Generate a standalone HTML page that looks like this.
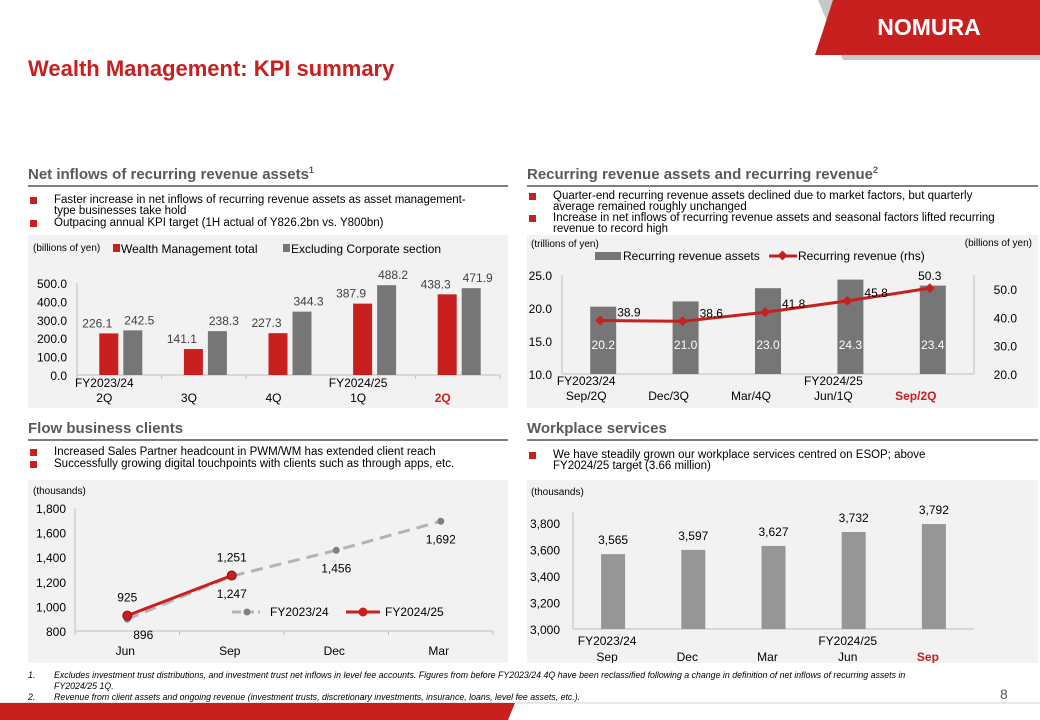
<!DOCTYPE html>
<html><head><meta charset="utf-8"><style>
body{margin:0;width:1040px;height:720px;position:relative;background:#fff;font-family:"Liberation Sans",Arial,sans-serif;overflow:hidden}
.abs{position:absolute}
.sec{font-size:15px;font-weight:bold;color:#595959;border-bottom:2px solid #7f7f7f;padding-bottom:2px}
.bul{font-size:11.5px;color:#000;line-height:11px;z-index:2}
.bul div{position:relative;padding-left:26px;margin-bottom:1px}
.bul div:before{content:"";position:absolute;left:2px;top:2px;width:7px;height:7px;background:#c8201f}
.panel{background:#f2f2f2}
svg text{font-family:"Liberation Sans",Arial,sans-serif}
.fn{font-size:8.8px;font-style:italic;color:#000}
</style></head><body>
<svg class="abs" style="left:0;top:0" width="1040" height="720">
<polygon points="818,0 1040,0 1040,60 843,60" fill="#c8c8c8"/>
<polygon points="833,0 1040,0 1040,55 815,55" fill="#c8201f"/>
<text x="929" y="35" text-anchor="middle" font-size="23" font-weight="bold" fill="#fff">NOMURA</text>
<line x1="0" y1="703" x2="1040" y2="703" stroke="#d0d0d0" stroke-width="1"/>
<polygon points="0,703 515,703 508,720 0,720" fill="#c8201f"/>
</svg>
<div class="abs" style="left:28px;top:56px;font-size:22px;font-weight:bold;color:#c8201f">Wealth Management: KPI summary</div>

<div class="abs sec" style="left:28px;top:165px;width:480px">Net inflows of recurring revenue assets<sup style="font-size:9px">1</sup></div>
<div class="abs bul" style="left:28px;top:195px;width:455px"><div>Faster increase in net inflows of recurring revenue assets as asset management-type businesses take hold</div><div>Outpacing annual KPI target (1H actual of Y826.2bn vs. Y800bn)</div></div>

<div class="abs sec" style="left:527px;top:165px;width:511px">Recurring revenue assets and recurring revenue<sup style="font-size:9px">2</sup></div>

<div class="abs sec" style="left:28px;top:420px;width:480px">Flow business clients</div>
<div class="abs bul" style="left:28px;top:447px;width:480px"><div>Increased Sales Partner headcount in PWM/WM has extended client reach</div><div>Successfully growing digital touchpoints with clients such as through apps, etc.</div></div>

<div class="abs sec" style="left:527px;top:420px;width:511px">Workplace services</div>
<div class="abs bul" style="left:527px;top:450px;width:440px"><div>We have steadily grown our workplace services centred on ESOP; above FY2024/25 target (3.66 million)</div></div>

<svg id="c1" class="abs panel" style="left:28px;top:235px" width="480" height="173"></svg>
<svg id="c2" class="abs panel" style="left:527px;top:235px" width="511" height="173"></svg>
<svg id="c3" class="abs panel" style="left:28px;top:480px" width="480" height="183"></svg>
<svg id="c4" class="abs panel" style="left:527px;top:480px" width="511" height="183"></svg>

<div class="abs bul" style="left:527px;top:191px;width:470px;line-height:10.5px"><div>Quarter-end recurring revenue assets declined due to market factors, but quarterly average remained roughly unchanged</div><div>Increase in net inflows of recurring revenue assets and seasonal factors lifted recurring revenue to record high</div></div>

<div class="abs fn" style="left:28px;top:670px;width:900px"><span style="position:absolute;left:0">1.</span><div style="margin-left:26px;line-height:11px;width:870px">Excludes investment trust distributions, and investment trust net inflows in level fee accounts. Figures from before FY2023/24 4Q have been reclassified following a change in definition of net inflows of recurring assets in FY2024/25 1Q.</div></div>
<div class="abs fn" style="left:28px;top:692px;width:900px"><span style="position:absolute;left:0">2.</span><div style="margin-left:26px">Revenue from client assets and ongoing revenue (investment trusts, discretionary investments, insurance, loans, level fee assets, etc.).</div></div>
<div class="abs" style="left:1000px;top:686px;font-size:14px;color:#595959">8</div>

<script>
const NS="http://www.w3.org/2000/svg";
function mk(svg,tag,at,txt){const e=document.createElementNS(NS,tag);for(const k in at)e.setAttribute(k,at[k]);if(txt!==undefined)e.textContent=txt;svg.appendChild(e);return e;}

// Chart 1 data
const c1Cats=[["FY2023/24","2Q"],["","3Q"],["","4Q"],["FY2024/25","1Q"],["","2Q"]];
const c1Wm=[226.1,141.1,227.3,387.9,438.3];
const c1Ex=[242.5,238.3,344.3,488.2,471.9];
const c1Ticks=[0,100,200,300,400,500];
// Chart 2 data
const c2Cats=[["FY2023/24","Sep/2Q"],["","Dec/3Q"],["","Mar/4Q"],["FY2024/25","Jun/1Q"],["","Sep/2Q"]];
const c2Assets=[20.2,21.0,23.0,24.3,23.4];
const c2Rev=[38.9,38.6,41.8,45.8,50.3];
const c2LTicks=[10,15,20,25];
const c2RTicks=[20,30,40,50];
// Chart 3 data
const c3Cats=["Jun","Sep","Dec","Mar"];
const c3Prev=[896,1247,1456,1692];
const c3Curr=[925,1251];
const c3Ticks=[800,1000,1200,1400,1600,1800];
// Chart 4 data
const c4Cats=[["FY2023/24","Sep"],["","Dec"],["","Mar"],["FY2024/25","Jun"],["","Sep"]];
const c4Vals=[3565,3597,3627,3732,3792];
const c4Ticks=[3000,3200,3400,3600,3800];

const RED="#c8201f",GRAY="#767676";
function fmt1(v){return v.toFixed(1);}
function fmtK(v){return v.toLocaleString("en-US");}

// ---- Chart 1
(function(){
const s=document.getElementById("c1");
const x0=49,x1=472,y=v=>140-v*0.184,bw=(x1-x0)/c1Cats.length;
mk(s,"text",{x:5,y:16,"font-size":10},"(billions of yen)");
let r=mk(s,"rect",{x:85,y:9,width:7,height:8,fill:RED});
mk(s,"text",{x:93,y:18,"font-size":12},"Wealth Management total");
r=mk(s,"rect",{x:255,y:9,width:7,height:8,fill:GRAY});
mk(s,"text",{x:263,y:18,"font-size":12},"Excluding Corporate section");
mk(s,"line",{x1:x0,y1:y(0),x2:x1,y2:y(0),stroke:"#bfbfbf"});
mk(s,"line",{x1:x0,y1:y(0),x2:x0,y2:y(500),stroke:"#bfbfbf"});
c1Ticks.forEach(t=>{const e=mk(s,"text",{x:39,y:y(t)+5,"text-anchor":"end","font-size":12},fmt1(t));});
for(let i=0;i<=c1Cats.length;i++)mk(s,"line",{x1:x0+i*bw,y1:y(0),x2:x0+i*bw,y2:y(0)+4,stroke:"#bfbfbf"});
c1Cats.forEach((c,i)=>{
const cx=x0+bw*(i+0.5);
let b=mk(s,"rect",{x:cx-20,y:y(c1Wm[i]),width:19,height:c1Wm[i]*0.184,fill:RED});

b=mk(s,"rect",{x:cx+4,y:y(c1Ex[i]),width:19,height:c1Ex[i]*0.184,fill:GRAY});

mk(s,"text",{x:cx-22,y:y(c1Wm[i])-6,"text-anchor":"middle","font-size":12,fill:"#404040"},fmt1(c1Wm[i]));
mk(s,"text",{x:cx+20,y:y(c1Ex[i])-6,"text-anchor":"middle","font-size":12,fill:"#404040"},fmt1(c1Ex[i]));
const last=i===c1Cats.length-1;
if(c[0])mk(s,"text",{x:cx-15,y:152,"text-anchor":"middle","font-size":12},c[0]);
const t=mk(s,"text",{x:cx-15,y:167,"text-anchor":"middle","font-size":12,"font-weight":last?"bold":"normal",fill:last?RED:"#000"},c[1]);

});
})();

// ---- Chart 2
(function(){
const s=document.getElementById("c2");
const x0=35,x1=447,yl=v=>139-(v-10)*6.6,yr=v=>139-(v-20)*2.833,bw=(x1-x0)/c2Cats.length;
mk(s,"text",{x:4,y:12,"font-size":10},"(trillions of yen)");
mk(s,"text",{x:505,y:11,"font-size":10,"text-anchor":"end"},"(billions of yen)");
mk(s,"rect",{x:68,y:17,width:26,height:8,fill:GRAY});
mk(s,"text",{x:96,y:25,"font-size":12},"Recurring revenue assets");
mk(s,"line",{x1:242,y1:21,x2:270,y2:21,stroke:RED,"stroke-width":3});
mk(s,"rect",{x:252,y:17,width:7,height:7,fill:RED,transform:"rotate(45 255.5 20.5)"});
mk(s,"text",{x:271,y:25,"font-size":12},"Recurring revenue (rhs)");
mk(s,"line",{x1:x0,y1:yl(10),x2:x1,y2:yl(10),stroke:"#bfbfbf"});
mk(s,"line",{x1:x0,y1:yl(10),x2:x0,y2:yl(25),stroke:"#bfbfbf"});
mk(s,"line",{x1:x1,y1:yl(10),x2:x1,y2:yl(25),stroke:"#bfbfbf"});
c2LTicks.forEach(t=>{const e=mk(s,"text",{x:25,y:yl(t)+5,"text-anchor":"end","font-size":12},fmt1(t));});
c2RTicks.forEach(t=>{const e=mk(s,"text",{x:490,y:yr(t)+5,"text-anchor":"end","font-size":12},fmt1(t));});
const pts=[];
c2Cats.forEach((c,i)=>{
const cx=x0+bw*(i+0.5);
const b=mk(s,"rect",{x:cx-13,y:yl(c2Assets[i]),width:26,height:yl(10)-yl(c2Assets[i]),fill:GRAY});

mk(s,"text",{x:cx,y:yl(10)-25,"text-anchor":"middle","font-size":12,fill:"#fff"},fmt1(c2Assets[i]));
pts.push([cx-3,yr(c2Rev[i])]);
const last=i===c2Cats.length-1;
if(c[0])mk(s,"text",{x:cx-17,y:150,"text-anchor":"middle","font-size":12},c[0]);
const t=mk(s,"text",{x:cx-17,y:165,"text-anchor":"middle","font-size":12,"font-weight":last?"bold":"normal",fill:last?RED:"#000"},c[1]);

});
const p=mk(s,"path",{d:"M"+pts.map(q=>q.join(",")).join("L"),fill:"none",stroke:RED,"stroke-width":3});

pts.forEach((q,i)=>{
const d=mk(s,"rect",{x:q[0]-3.5,y:q[1]-3.5,width:7,height:7,fill:RED,transform:`rotate(45 ${q[0]} ${q[1]})`});

const last=i===pts.length-1;
mk(s,"text",{x:last?q[0]:q[0]+17,y:last?q[1]-8:q[1]-4,"text-anchor":last?"middle":"start","font-size":12},fmt1(c2Rev[i]));
});
})();

// ---- Chart 3
(function(){
const s=document.getElementById("c3");
const x0=47,x1=465,y=v=>151-(v-800)*0.123,bw=(x1-x0)/c3Cats.length;
mk(s,"text",{x:5,y:14,"font-size":10},"(thousands)");
mk(s,"line",{x1:x0,y1:y(800),x2:x1,y2:y(800),stroke:"#bfbfbf"});
mk(s,"line",{x1:x0,y1:y(800),x2:x0,y2:y(1800),stroke:"#bfbfbf"});
c3Ticks.forEach(t=>{const e=mk(s,"text",{x:38,y:y(t)+5,"text-anchor":"end","font-size":12},fmtK(t));});
for(let i=0;i<=c3Cats.length;i++)mk(s,"line",{x1:x0+i*bw,y1:y(800),x2:x0+i*bw,y2:y(800)+4,stroke:"#bfbfbf"});
const cx=i=>x0+bw*(i+0.5);
c3Cats.forEach((c,i)=>{const t=mk(s,"text",{x:cx(i)-2,y:175,"text-anchor":"middle","font-size":12},c);});
let p=mk(s,"path",{d:"M"+c3Prev.map((v,i)=>cx(i)+","+y(v)).join("L"),fill:"none",stroke:"#b3b3b3","stroke-width":3,"stroke-dasharray":"12,7"});

c3Prev.forEach((v,i)=>{const c=mk(s,"circle",{cx:cx(i),cy:y(v),r:3.5,fill:"#808080"});
mk(s,"text",{x:cx(i)+(i===0?16:0),y:y(v)+(i===0?20:22),"text-anchor":"middle","font-size":12},fmtK(v));});
p=mk(s,"path",{d:"M"+c3Curr.map((v,i)=>cx(i)+","+y(v)).join("L"),fill:"none",stroke:RED,"stroke-width":3});

c3Curr.forEach((v,i)=>{const c=mk(s,"circle",{cx:cx(i),cy:y(v),r:4.5,fill:RED,stroke:"#8a1010","stroke-width":1});
mk(s,"text",{x:cx(i),y:y(v)-14,"text-anchor":"middle","font-size":12},fmtK(v));});
mk(s,"line",{x1:204,y1:132,x2:232,y2:132,stroke:"#b3b3b3","stroke-width":3,"stroke-dasharray":"9,4"});
mk(s,"circle",{cx:219,cy:132,r:3.5,fill:"#808080"});
mk(s,"text",{x:242,y:136,"font-size":12},"FY2023/24");
mk(s,"line",{x1:318,y1:132,x2:352,y2:132,stroke:RED,"stroke-width":3});
mk(s,"circle",{cx:335,cy:132,r:4.5,fill:RED});
mk(s,"text",{x:357,y:136,"font-size":12},"FY2024/25");
})();

// ---- Chart 4
(function(){
const s=document.getElementById("c4");
const x0=46,x1=447,y=v=>149-(v-3000)*0.1325,bw=(x1-x0)/c4Cats.length;
mk(s,"text",{x:4,y:15,"font-size":10},"(thousands)");
mk(s,"line",{x1:x0,y1:y(3000),x2:x1,y2:y(3000),stroke:"#bfbfbf"});
mk(s,"line",{x1:x0,y1:y(3000),x2:x0,y2:y(3880),stroke:"#bfbfbf"});
c4Ticks.forEach(t=>{const e=mk(s,"text",{x:33,y:y(t)+5,"text-anchor":"end","font-size":12},fmtK(t));});
c4Cats.forEach((c,i)=>{
const cx=x0+bw*(i+0.5);
const b=mk(s,"rect",{x:cx-12,y:y(c4Vals[i]),width:24,height:y(3000)-y(c4Vals[i]),fill:"#969696"});

mk(s,"text",{x:cx,y:y(c4Vals[i])-10,"text-anchor":"middle","font-size":12},fmtK(c4Vals[i]));
const last=i===c4Cats.length-1;
if(c[0])mk(s,"text",{x:cx-6,y:165,"text-anchor":"middle","font-size":12},c[0]);
const t=mk(s,"text",{x:cx-6,y:181,"text-anchor":"middle","font-size":12,"font-weight":last?"bold":"normal",fill:last?RED:"#000"},c[1]);

});
})();
</script>
</body></html>
